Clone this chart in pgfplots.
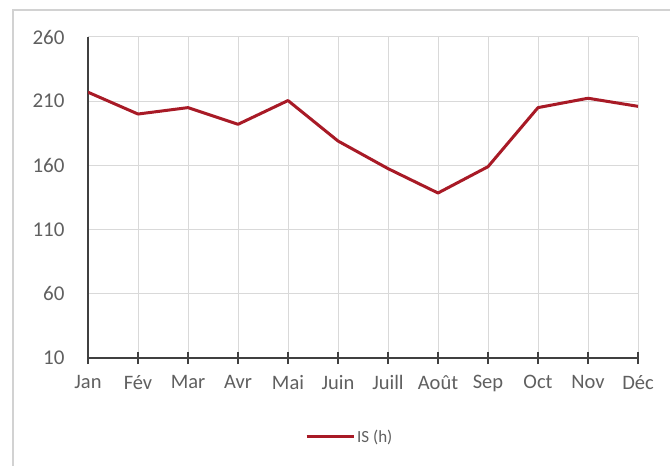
\documentclass[border=0pt]{standalone}
\usepackage{pgfplots}
\pgfplotsset{compat=1.18}
\usepackage{fontspec}
\setmainfont{Carlito}
\definecolor{linered}{RGB}{168,26,38}
\definecolor{gridgray}{RGB}{217,217,217}
\definecolor{labgray}{RGB}{96,96,96}
\definecolor{axgray}{RGB}{64,64,64}
\definecolor{framegray}{RGB}{210,210,210}
\begin{document}
\begin{tikzpicture}[x=1pt,y=1pt]
\clip (0,0) rectangle (670,466);
\fill[white] (0,0) rectangle (670,466);
\draw[framegray, line width=1.5pt] (13,-5) rectangle (680,456);
\begin{axis}[
  at={(88pt,108pt)}, anchor=south west,
  scale only axis,
  width=550pt, height=321pt,
  xmin=0, xmax=11, ymin=10, ymax=260,
  xtick={0,...,11},
  xticklabels={Jan,Fév,Mar,Avr,Mai,Juin,Juill,Août,Sep,Oct,Nov,Déc},
  ytick={10,60,110,160,210,260},
  axis x line*=bottom, axis y line*=left,
  axis line style={axgray, line width=2pt, -},
  grid=major,
  major grid style={gridgray, line width=1pt},
  xtick style={axgray, line width=2pt},
  ytick style={draw=none},
  major tick length=12pt,
  xtick align=center,
  /pgf/number format/assume math mode=true,
  x tick label style={font=\fontsize{20.5}{24}\selectfont, text=labgray, yshift=-8pt},
  y tick label style={font=\fontsize{21}{25}\selectfont, text=labgray, xshift=-20pt},
  legend style={at={(0.476,-0.246)}, anchor=center, draw=none, fill=none,
    font=\fontsize{17}{20}\selectfont, text=labgray},
  legend image code/.code={\draw[#1] (0pt,0pt) -- (47pt,0pt);},
  legend cell align=left,
]
\addplot[linered, line width=3pt, line join=round] coordinates {
 (0,217) (1,200) (2,205) (3,192) (4,210.5) (5,179)
 (6,157.5) (7,138.5) (8,159) (9,205) (10,212.3) (11,206)
};
\addlegendentry{IS (h)}
\end{axis}
\end{tikzpicture}
\end{document}
